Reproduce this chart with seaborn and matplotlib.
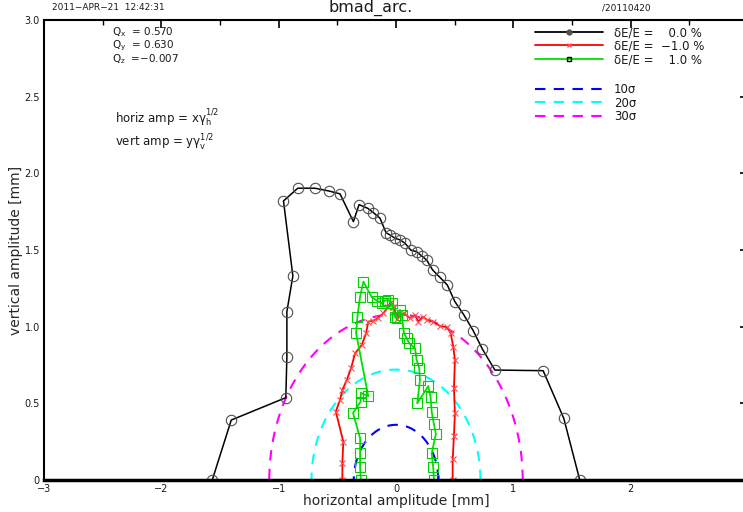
import numpy as np
import pandas as pd
import matplotlib
matplotlib.use('Agg')
import matplotlib.pyplot as plt
import seaborn as sns
from matplotlib.lines import Line2D
from matplotlib.ticker import MultipleLocator

# 动态孔径数据 (mm)
x_de0 = [-1.566, -1.404, -0.939, -0.930, -0.930, -0.879, -0.959, -0.837, -0.692, -0.573,
         -0.477, -0.363, -0.315, -0.241, -0.193, -0.136, -0.085, -0.051, -0.009, 0.034,
         0.077, 0.125, 0.176, 0.219, 0.261, 0.312, 0.374, 0.437, 0.502, 0.579,
         0.658, 0.737, 0.843, 1.254, 1.430, 1.566]
y_de0 = [0.0, 0.391, 0.537, 0.804, 1.098, 1.331, 1.820, 1.903, 1.903, 1.885,
         1.866, 1.685, 1.796, 1.772, 1.744, 1.707, 1.613, 1.598, 1.577, 1.566,
         1.544, 1.500, 1.489, 1.461, 1.435, 1.370, 1.322, 1.272, 1.163, 1.076,
         0.974, 0.853, 0.717, 0.713, 0.402, 0.0]

x_dem1 = [-0.457, -0.457, -0.449, -0.513, -0.477, -0.457, -0.420, -0.383, -0.349, -0.292,
          -0.255, -0.236, -0.193, -0.153, -0.108, -0.066, -0.045, -0.023, 0.006, 0.034,
          0.068, 0.119, 0.162, 0.190, 0.227, 0.266, 0.317, 0.374, 0.437, 0.466,
          0.488, 0.502, 0.494, 0.502, 0.494, 0.483, 0.483]
y_dem1 = [0.0, 0.113, 0.250, 0.446, 0.522, 0.587, 0.652, 0.729, 0.826, 0.881,
          0.957, 1.033, 1.039, 1.057, 1.087, 1.130, 1.163, 1.127, 1.048, 1.076,
          1.087, 1.055, 1.076, 1.033, 1.065, 1.044, 1.033, 1.005, 0.996, 0.957,
          0.870, 0.783, 0.598, 0.435, 0.289, 0.135, 0.0]

x_dep1 = [-0.300, -0.306, -0.306, -0.306, -0.366, -0.302, -0.300, -0.236, -0.340, -0.329,
          -0.306, -0.278, -0.207, -0.164, -0.122, -0.094, -0.066, -0.037, -0.009, 0.006,
          0.034, 0.049, 0.068, 0.091, 0.113, 0.162, 0.176, 0.198, 0.204, 0.181,
          0.275, 0.295, 0.304, 0.323, 0.340, 0.304, 0.317, 0.323]
y_dep1 = [0.0, 0.087, 0.174, 0.272, 0.437, 0.511, 0.569, 0.545, 0.957, 1.065,
          1.196, 1.294, 1.192, 1.170, 1.153, 1.170, 1.174, 1.153, 1.065, 1.055,
          1.109, 1.076, 0.957, 0.924, 0.892, 0.859, 0.783, 0.729, 0.652, 0.500,
          0.613, 0.539, 0.446, 0.365, 0.300, 0.174, 0.083, 0.0]

sigma_labels = ['10σ', '20σ', '30σ']
sigma_radius = [0.36, 0.72, 1.08]
sigma_colors = ['#0000ff', '#00ffff', '#ff00ff']

de_labels = ['δE/E =    0.0 %', 'δE/E =  −1.0 %', 'δE/E =    1.0 %']

x_ticks = [-3, -2, -1, 0, 1, 2, 3]
x_ticklabels = ['−3', '−2', '−1', '0', '1', '2', '']
y_ticks = [0, 0.5, 1.0, 1.5, 2.0, 2.5, 3.0]
y_ticklabels = ['0', '0.5', '1.0', '1.5', '2.0', '2.5', '3.0']

sns.set_style('white')
plt.rcParams['font.family'] = ['DejaVu Sans']
plt.rcParams['mathtext.fontset'] = 'dejavusans'
plt.rcParams['text.color'] = '#1a1a1a'

fig = plt.figure(figsize=(7.43, 5.12), dpi=100)
ax = fig.add_axes([44 / 743, 32 / 512, 704 / 743, 460 / 512])

# σ 半圆
theta = np.linspace(0, np.pi, 181)
for r, c in zip(sigma_radius, sigma_colors):
    df_s = pd.DataFrame({'x': r * np.cos(theta), 'y': r * np.sin(theta)})
    sns.lineplot(data=df_s, x='x', y='y', sort=False, estimator=None, ax=ax,
                 color=c, lw=1.5, dashes=False, linestyle=(0, (5, 4)))

# 三条孔径曲线
sns.lineplot(x=x_de0, y=y_de0, sort=False, estimator=None, ax=ax, color='black', lw=1.1,
             marker='o', ms=7.5, mfc='none', mec='#505050', mew=0.8)
sns.lineplot(x=x_dem1, y=y_dem1, sort=False, estimator=None, ax=ax, color='#ff0000', lw=1.3,
             marker='x', ms=5, mec='#ff5050', mew=0.8)
sns.lineplot(x=x_dep1, y=y_dep1, sort=False, estimator=None, ax=ax, color='#00e000', lw=1.3,
             marker='s', ms=6.5, mfc='none', mec='#00d000', mew=0.8)

ax.set_xlim(-3, 3)
ax.set_ylim(0, 3)
ax.set_xticks(x_ticks)
ax.set_xticklabels(x_ticklabels)
ax.set_yticks(y_ticks)
ax.set_yticklabels(y_ticklabels)
ax.xaxis.set_minor_locator(MultipleLocator(0.5))
ax.yaxis.set_minor_locator(MultipleLocator(0.1))
ax.tick_params(axis='both', which='both', direction='in', top=True, right=True,
               labelsize=7, color='black', labelcolor='#1a1a1a')
ax.tick_params(axis='x', which='both', pad=3)
ax.tick_params(axis='y', which='both', pad=3)
ax.tick_params(axis='both', which='major', length=6, width=1.2)
ax.tick_params(axis='both', which='minor', length=3.5, width=1.0)
for side in ['left', 'top', 'right']:
    ax.spines[side].set_linewidth(1.5)
    ax.spines[side].set_color('black')
ax.spines['bottom'].set_linewidth(2.5)
ax.spines['bottom'].set_color('black')

ax.set_xlabel('horizontal amplitude [mm]', fontsize=10, labelpad=0)
ax.set_ylabel('vertical amplitude [mm]', fontsize=10, labelpad=1)

# 页眉
fig.text(52 / 743, 1 - 8 / 512, '2011−APR−21  12:42:31', fontsize=6.5, va='center')
fig.text(371 / 743, 1 - 8 / 512, 'bmad_arc.', fontsize=11.5, va='center', ha='center')
fig.text(602 / 743, 1 - 8 / 512, '/20110420', fontsize=6.5, va='center')

# 工作点
tunes = [r'$\mathregular{Q_x}$  = 0.570', r'$\mathregular{Q_y}$  = 0.630', r'$\mathregular{Q_z}$  =−0.007']
for i, t in enumerate(tunes):
    fig.text(112 / 743, 1 - (32 + 13.5 * i) / 512, t, fontsize=7.5, va='center')
fig.text(115 / 743, 1 - 118 / 512, r'horiz amp = x$\mathregular{\gamma_h^{1/2}}$', fontsize=8.5, va='center')
fig.text(115 / 743, 1 - 143 / 512, r'vert amp = y$\mathregular{\gamma_v^{1/2}}$', fontsize=8.5, va='center')

# 图例
h1 = [Line2D([], [], color='black', lw=1.3, marker='o', ms=3.5, mfc='#505050', mec='#505050'),
      Line2D([], [], color='#ff0000', lw=1.3, marker='x', ms=3.5, mec='#ff5050'),
      Line2D([], [], color='#00e000', lw=1.3, marker='s', ms=3.5, mfc='none', mec='black')]
leg1 = fig.legend(h1, de_labels, loc='upper left', bbox_to_anchor=(535 / 743, 1 - 26 / 512),
                  frameon=False, fontsize=8.5, handlelength=5.8, handletextpad=0.9,
                  labelspacing=0.05, borderpad=0, borderaxespad=0, numpoints=1)
h2 = [Line2D([], [], color=c, lw=1.5, linestyle=(0, (5, 4))) for c in sigma_colors]
leg2 = fig.legend(h2, sigma_labels, loc='upper left', bbox_to_anchor=(535 / 743, 1 - 83 / 512),
                  frameon=False, fontsize=8.5, handlelength=5.8, handletextpad=0.9,
                  labelspacing=0.05, borderpad=0, borderaxespad=0)

fig.savefig('out.png', dpi=100)
